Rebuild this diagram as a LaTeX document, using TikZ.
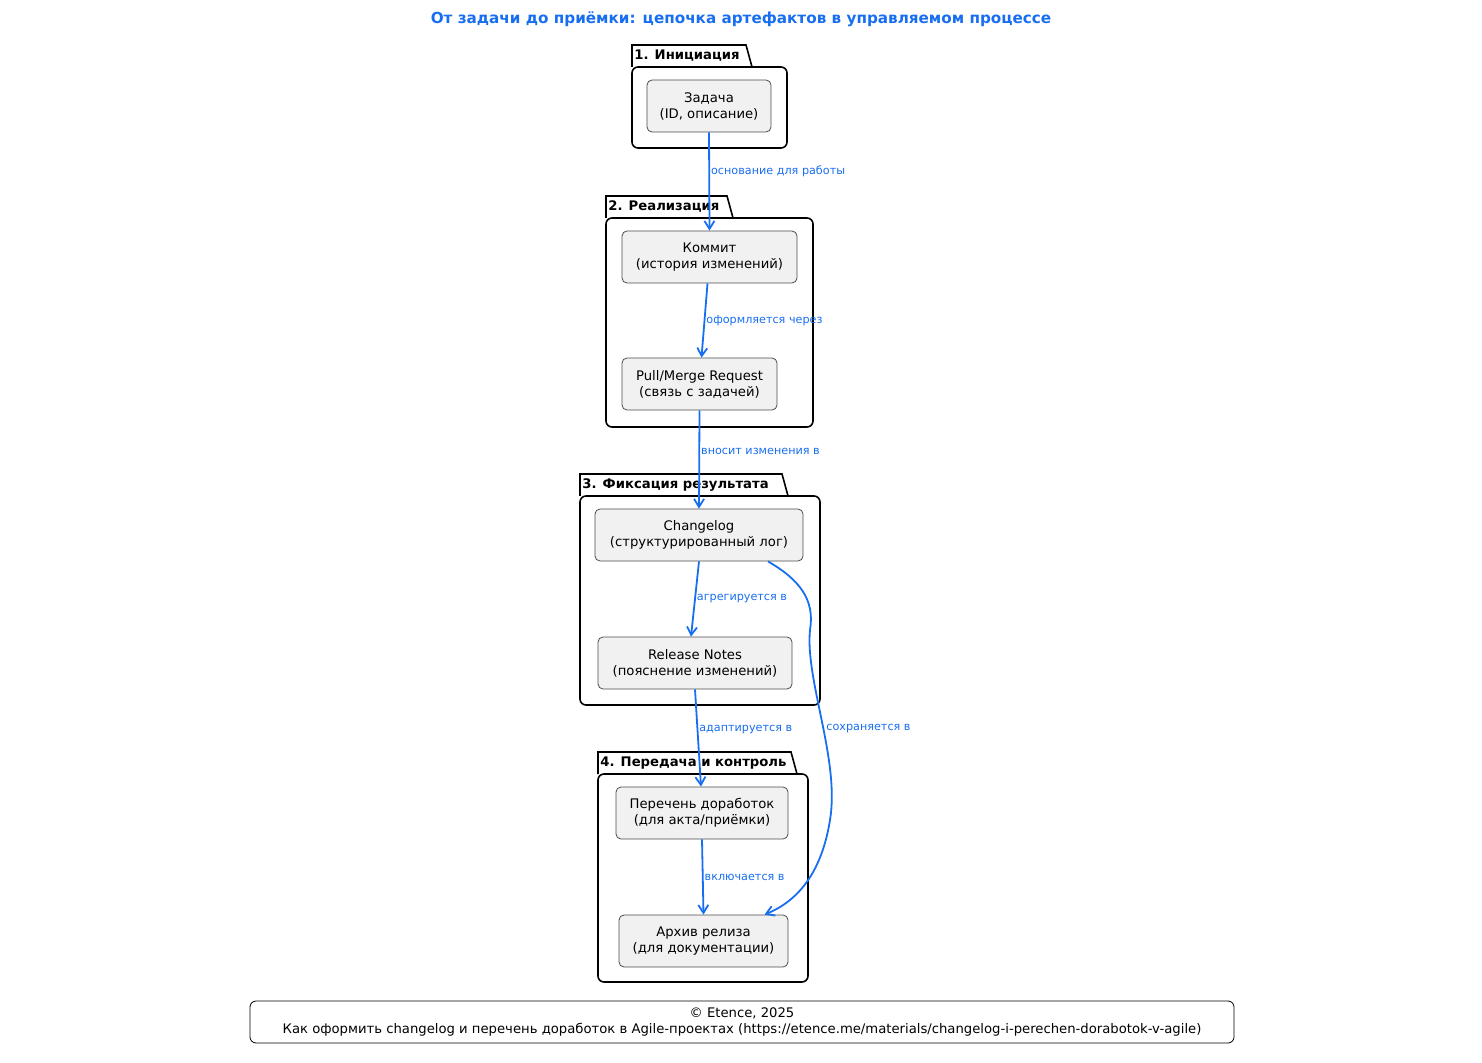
\documentclass[tikz,border=0pt]{standalone}
\usepackage{fontspec}
\setmainfont{DejaVu Sans}
\usetikzlibrary{arrows.meta,positioning}
\definecolor{linkblue}{RGB}{24,110,240}
\definecolor{boxgray}{RGB}{241,241,241}
\tikzset{
  artefact/.style={draw=black!70,fill=boxgray,rounded corners=2.5pt,align=center,
    font=\fontsize{6.6}{8}\selectfont,inner sep=0pt},
  flow/.style={-{Straight Barb[length=4pt,width=5pt]},draw=linkblue,line width=0.9pt},
  flowlabel/.style={font=\fontsize{5.6}{7}\selectfont,text=linkblue,anchor=west,inner sep=0.5pt},
  pkg/.style={draw=black,line width=0.8pt},
  pkglabel/.style={font=\bfseries\fontsize{6.6}{8}\selectfont,anchor=west,inner sep=1pt}
}
\newcommand{\folder}[6]{% left, right, top, tab right, body top, bottom
  \draw[pkg] (#1,#5) -- (#1,#3) -- (#4-6,#3) -- (#4,#5);
  \draw[pkg,rounded corners=3pt] (#1,#5) -- (#2,#5) -- (#2,#6) -- (#1,#6) -- cycle;
}
\begin{document}
\begin{tikzpicture}[x=0.5pt,y=-0.5pt]
  \useasboundingbox (0,0) rectangle (1482,1063);
  \node[font=\bfseries\fontsize{7.6}{9}\selectfont,text=linkblue] (title) at (741,19)
    {От задачи до приёмки: цепочка артефактов в управляемом процессе};

  % packages
  \folder{632}{787}{45}{752}{67}{148}
  \node[pkglabel] (p1) at (632,56) {1. Инициация};
  \folder{606}{813}{196}{733}{218}{427}
  \node[pkglabel] (p2) at (606,207) {2. Реализация};
  \folder{580}{820}{474}{788}{496}{705}
  \node[pkglabel] (p3) at (580,485) {3. Фиксация результата};
  \folder{598}{808}{752}{797}{774}{982}
  \node[pkglabel] (p4) at (598,763) {4. Передача и контроль};

  % artefacts
  \node[artefact,minimum width=62pt,minimum height=26pt] (task) at (709,106) {Задача\\(ID, описание)};
  \node[artefact,minimum width=87.5pt,minimum height=26pt] (commit) at (709.5,257) {Коммит\\(история изменений)};
  \node[artefact,minimum width=77.5pt,minimum height=26pt] (pr) at (699.5,384) {Pull/Merge Request\\(связь с задачей)};
  \node[artefact,minimum width=104pt,minimum height=26pt] (changelog) at (699,535) {Changelog\\(структурированный лог)};
  \node[artefact,minimum width=97pt,minimum height=26pt] (notes) at (695,663) {Release Notes\\(пояснение изменений)};
  \node[artefact,minimum width=86pt,minimum height=26pt] (list) at (702,813) {Перечень доработок\\(для акта/приёмки)};
  \node[artefact,minimum width=84.5pt,minimum height=26pt] (archive) at (703.5,941) {Архив релиза\\(для документации)};

  % connectors
  \draw[flow] (task.south) -- node[flowlabel,pos=0.4] {основание для работы} (commit.north);
  \draw[flow] ([xshift=-1pt]commit.south) -- node[flowlabel,pos=0.5] {оформляется через} ([xshift=1pt]pr.north);
  \draw[flow] (pr.south) -- node[flowlabel,pos=0.42] {вносит изменения в} (changelog.north);
  \draw[flow] (changelog.south) -- node[flowlabel,pos=0.5] {агрегируется в} ([xshift=-2pt]notes.north);
  \draw[flow] (notes.south) -- node[flowlabel,pos=0.41] {адаптируется в} ([xshift=-0.5pt]list.north);
  \draw[flow] (list.south) -- node[flowlabel,pos=0.5] {включается в} (archive.north);
  \draw[flow] ([xshift=34.5pt]changelog.south) .. controls (800,580) and (815,600) .. (810,630)
    .. controls (805,680) and (840,760) .. (830,820)
    .. controls (822,870) and (800,900) .. ([xshift=30.5pt]archive.north);
  \node[flowlabel] (keep) at (825,729) {сохраняется в};

  % footer
  \node[draw=black,rounded corners=3pt,minimum width=492pt,minimum height=21pt,inner sep=0pt,
    align=center,font=\fontsize{6.6}{8}\selectfont] (footer) at (742,1022)
    {© Etence, 2025\\Как оформить changelog и перечень доработок в Agile-проектах (https://etence.me/materials/changelog-i-perechen-dorabotok-v-agile)};
\end{tikzpicture}
\end{document}
